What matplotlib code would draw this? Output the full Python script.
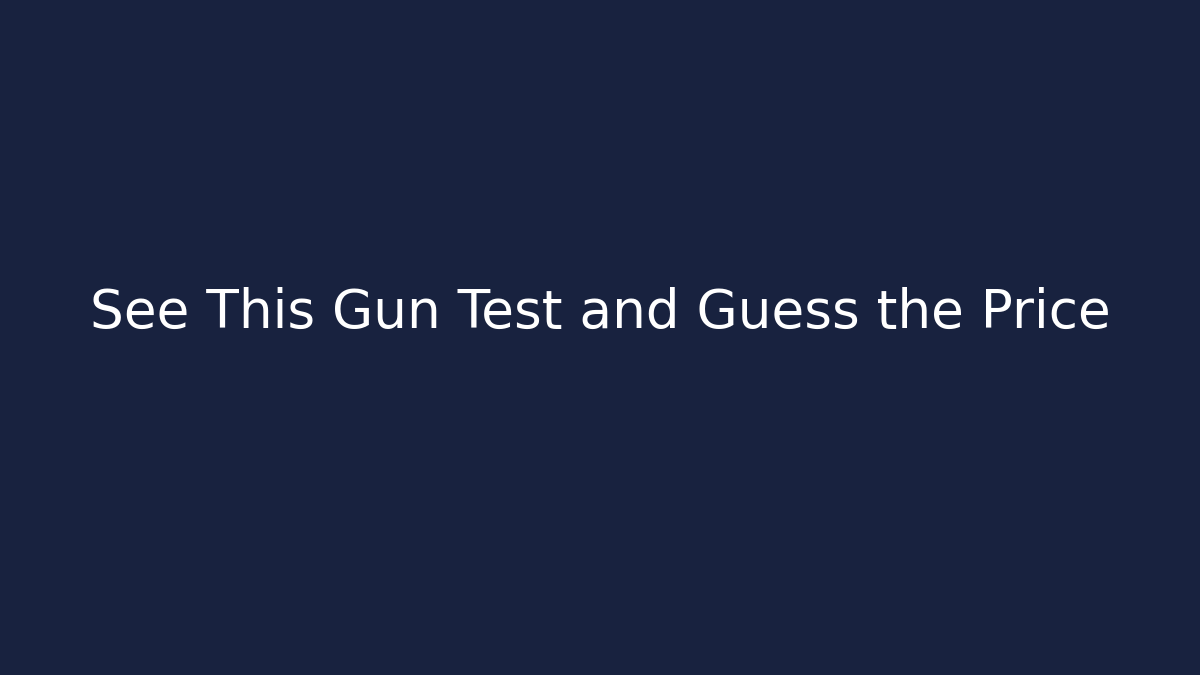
import matplotlib
matplotlib.use("Agg")
import matplotlib.pyplot as plt

# title card text
title_text = "See This Gun Test and Guess the Price"
bg_color = "#18223f"

fig = plt.figure(figsize=(12, 6.75), dpi=100, facecolor=bg_color)
fig.text(0.5, 0.537, title_text, color="white", fontsize=38.35,
         ha="center", va="center", family="DejaVu Sans")

fig.savefig("out.png", dpi=100, facecolor=bg_color)
